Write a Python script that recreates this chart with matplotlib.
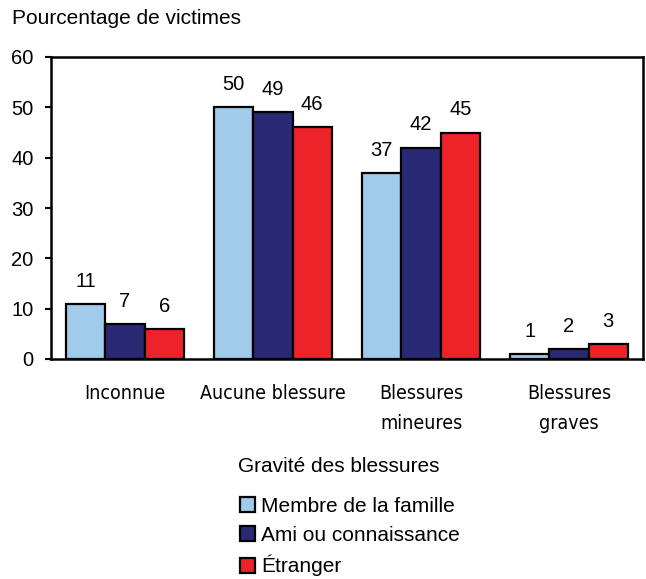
import matplotlib
matplotlib.use("Agg")
import matplotlib.pyplot as plt
import numpy as np
from matplotlib.patches import Patch

categories = ["Inconnue", "Aucune blessure", "Blessures\nmineures", "Blessures\ngraves"]
series_names = ["Membre de la famille", "Ami ou connaissance", "Étranger"]
famille = [11, 50, 37, 1]
ami = [7, 49, 42, 2]
etranger = [6, 46, 45, 3]
colors = ["#A0CBEA", "#292A73", "#EE2229"]

plt.rcParams["font.family"] = ["Liberation Sans", "DejaVu Sans"]

fig = plt.figure(figsize=(6.46, 5.79), dpi=100)
# axes frame: x 51..643 px, y 57..359 px
ax = fig.add_axes([51 / 646, 1 - 359 / 579, 592 / 646, 302 / 579])

x = np.arange(len(categories))
w = 0.265
for i, vals in enumerate([famille, ami, etranger]):
    pos = x + (i - 1) * w
    ax.bar(pos, vals, width=w, color=colors[i], edgecolor="black", linewidth=1.6)
    for p, v in zip(pos, vals):
        ax.text(p, v + 3.4, str(v), ha="center", va="baseline", fontsize=14.5)

ax.set_xlim(-0.5, 3.5)
ax.set_ylim(0, 60)
ax.set_yticks(range(0, 61, 10))
ax.tick_params(axis="y", labelsize=14.5, length=4.5, width=1.5, direction="out", pad=8)
ax.set_xticks(x)
ax.set_xticklabels(categories, fontsize=14, family="DejaVu Sans", fontstretch="condensed",
                   linespacing=1.75)
ax.tick_params(axis="x", length=0, pad=18)
for s in ax.spines.values():
    s.set_linewidth(1.8)

fig.text(12 / 646, 1 - 18 / 579, "Pourcentage de victimes", fontsize=15, va="center", ha="left")
fig.text(339 / 646, 1 - 466 / 579, "Gravité des blessures", fontsize=15, va="center", ha="center")

handles = [Patch(facecolor=c, edgecolor="black", linewidth=1.6) for c in colors]
fig.legend(handles, series_names, loc="upper left", bbox_to_anchor=(240 / 646, 1 - 497 / 579),
           frameon=False, fontsize=15, handlelength=0.7, handleheight=0.7, handletextpad=0.3,
           labelspacing=0.48, borderpad=0, borderaxespad=0)

fig.savefig("out.png", dpi=100)
